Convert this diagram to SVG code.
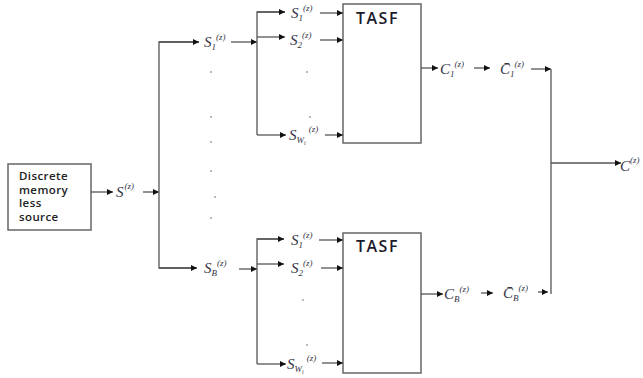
<svg xmlns="http://www.w3.org/2000/svg" width="643" height="378" viewBox="0 0 643 378">
<defs>
<marker id="ah" viewBox="0 0 10 10" refX="10" refY="5" markerWidth="7" markerHeight="6" markerUnits="userSpaceOnUse" orient="auto"><path d="M0,0 L10,5 L0,10 z" fill="#111"/></marker>
<style>
.ln{stroke:#555;stroke-width:1.3;fill:none}
.ar{stroke:#555;stroke-width:1.3;fill:none;marker-end:url(#ah)}
.box{fill:#fff;stroke:#666;stroke-width:1.5}
.src{font-family:"Open Sans","Liberation Sans",sans-serif;font-size:11.5px;font-weight:600;letter-spacing:0.4px;fill:#222}
.tasf{font-family:"Open Sans","Liberation Sans",sans-serif;font-size:16px;font-weight:600;letter-spacing:1.5px;fill:#1a1a2a}
.lbl{font-family:"Liberation Serif",serif;font-style:italic;font-size:15px;fill:#334}
.sub{font-size:9px}
.sup{font-size:9px}
.dot{fill:#999}
</style>
</defs>
<rect width="643" height="378" fill="#fff"/>

<g id="source">
<rect class="box" x="8" y="164" width="83" height="66"/>
<text class="src" x="19" y="180">Discrete</text>
<text class="src" x="19" y="193.5">memory</text>
<text class="src" x="19" y="207">less</text>
<text class="src" x="19" y="220.5">source</text>
</g>

<g id="tasf1">
<rect class="box" x="343" y="4" width="78" height="139"/>
<text class="tasf" x="356" y="24">TASF</text>
</g>

<g id="tasf2">
<rect class="box" x="343" y="233" width="78" height="140"/>
<text class="tasf" x="356" y="252">TASF</text>
</g>

<g id="connectors">
<line class="ar" x1="91" y1="192" x2="113" y2="192"/>
<line class="ar" x1="143" y1="192" x2="159" y2="192"/>
<polyline class="ln" points="199,42 159,42 159,268 196,268"/>
<line class="ar" x1="159" y1="42" x2="199" y2="42"/>
<line class="ar" x1="159" y1="268" x2="197" y2="268"/>
<line class="ar" x1="231" y1="42" x2="257" y2="42"/>
<line class="ar" x1="239" y1="269" x2="257" y2="269"/>
<!-- top fan -->
<polyline class="ln" points="285,12 257,12 257,135"/>
<line class="ar" x1="257" y1="12" x2="285" y2="12"/>
<line class="ar" x1="257" y1="37" x2="285" y2="37"/>
<line class="ar" x1="257" y1="135" x2="286" y2="135"/>
<line class="ar" x1="320" y1="13" x2="343" y2="13"/>
<line class="ar" x1="320" y1="40" x2="343" y2="40"/>
<line class="ar" x1="325" y1="135" x2="343" y2="135"/>
<!-- bottom fan -->
<polyline class="ln" points="284,239 257,239 257,364"/>
<line class="ar" x1="257" y1="239" x2="284" y2="239"/>
<line class="ar" x1="257" y1="264" x2="284" y2="264"/>
<line class="ar" x1="257" y1="364" x2="286" y2="364"/>
<line class="ar" x1="319" y1="240" x2="343" y2="240"/>
<line class="ar" x1="321" y1="268" x2="343" y2="268"/>
<line class="ar" x1="322" y1="363" x2="343" y2="363"/>
<!-- outputs -->
<line class="ar" x1="421" y1="68" x2="438" y2="68"/>
<line class="ar" x1="474" y1="68" x2="490" y2="68"/>
<line class="ar" x1="531" y1="69" x2="551" y2="69"/>
<line class="ar" x1="421" y1="294" x2="443" y2="294"/>
<line class="ar" x1="481" y1="293" x2="493" y2="293"/>
<line class="ar" x1="538" y1="292" x2="548" y2="292"/>
<line class="ln" x1="551" y1="69" x2="551" y2="294"/>
<line class="ar" x1="551" y1="163" x2="621" y2="163"/>
</g>

<g id="labels">
<text class="lbl" x="116" y="197">S<tspan class="sup" dx="1" dy="-8">(z)</tspan></text>
<text class="lbl" x="204" y="47">S<tspan class="sub" dy="3">1</tspan><tspan class="sup" dy="-10">(z)</tspan></text>
<text class="lbl" x="204" y="273">S<tspan class="sub" dy="3">B</tspan><tspan class="sup" dy="-10">(z)</tspan></text>

<text class="lbl" x="291" y="18">S<tspan class="sub" dy="3">1</tspan><tspan class="sup" dy="-10">(z)</tspan></text>
<text class="lbl" x="290" y="45">S<tspan class="sub" dy="3">2</tspan><tspan class="sup" dy="-10">(z)</tspan></text>
<text class="lbl" x="289" y="140">S<tspan class="sub" dy="3">W<tspan font-size="6" dy="2">i</tspan></tspan><tspan class="sup" dx="3" dy="-13">(z)</tspan></text>

<text class="lbl" x="291" y="245">S<tspan class="sub" dy="3">1</tspan><tspan class="sup" dy="-10">(z)</tspan></text>
<text class="lbl" x="291" y="273">S<tspan class="sub" dy="3">2</tspan><tspan class="sup" dy="-10">(z)</tspan></text>
<text class="lbl" x="287" y="369">S<tspan class="sub" dy="3">W<tspan font-size="6" dy="2">i</tspan></tspan><tspan class="sup" dx="3" dy="-13">(z)</tspan></text>

<text class="lbl" x="440" y="74">C<tspan class="sub" dy="3">1</tspan><tspan class="sup" dy="-10">(z)</tspan></text>
<text class="lbl" x="500" y="74">C&#772;<tspan class="sub" dy="3">1</tspan><tspan class="sup" dy="-10">(z)</tspan></text>
<text class="lbl" x="444" y="299">C<tspan class="sub" dy="3">B</tspan><tspan class="sup" dy="-10">(z)</tspan></text>
<text class="lbl" x="503" y="298">C&#772;<tspan class="sub" dy="3">B</tspan><tspan class="sup" dy="-10">(z)</tspan></text>
<text class="lbl" x="620" y="171">C<tspan class="sup" dy="-8">(z)</tspan></text>
</g>

<g id="dots">
<circle class="dot" cx="211" cy="72" r="0.9"/>
<circle class="dot" cx="211" cy="117" r="0.9"/>
<circle class="dot" cx="211" cy="142" r="0.9"/>
<circle class="dot" cx="211" cy="171" r="0.9"/>
<circle class="dot" cx="215" cy="197" r="0.9"/>
<circle class="dot" cx="211" cy="218" r="0.9"/>
<circle class="dot" cx="307" cy="72" r="0.9"/>
<circle class="dot" cx="310" cy="117" r="0.9"/>
<circle class="dot" cx="303" cy="300" r="0.9"/>
<circle class="dot" cx="307" cy="345" r="0.9"/>
</g>
</svg>
